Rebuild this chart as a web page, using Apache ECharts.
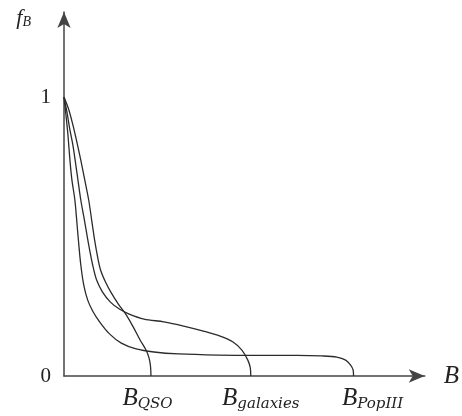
<!DOCTYPE html>
<html>
<head>
<meta charset="utf-8">
<script src="https://cdn.jsdelivr.net/npm/echarts@6/dist/echarts.min.js"></script>
<style>
  html, body { margin: 0; padding: 0; background: #fff; }
  #chart { width: 462px; height: 416px; }
</style>
</head>
<body>
<div id="chart"></div>
<script>
// ---- data ----
// x in arbitrary B units, y = f_B (0..1)
const popX = [0, 2, 4, 6, 8, 11, 13, 15, 17, 20, 24, 29, 36, 46, 58, 73, 91, 116, 156, 196, 236, 261, 276, 285, 290, 292.5, 293];
const popY = [1, 0.935, 0.864, 0.774, 0.703, 0.631, 0.552, 0.470, 0.398, 0.326, 0.272, 0.233, 0.194, 0.151, 0.118, 0.097, 0.086, 0.079, 0.075, 0.074, 0.074, 0.072, 0.068, 0.057, 0.039, 0.022, 0];

const galX = [0, 3, 6, 9, 13, 17, 21, 25, 29, 33, 39, 47, 56, 66, 81, 101, 121, 141, 158, 171, 180, 186, 188.5, 189];
const galY = [1, 0.946, 0.882, 0.828, 0.731, 0.631, 0.552, 0.470, 0.398, 0.344, 0.301, 0.265, 0.240, 0.222, 0.204, 0.194, 0.179, 0.161, 0.143, 0.122, 0.093, 0.057, 0.029, 0];

const qsoX = [0, 5, 9, 13, 17, 21, 25, 28, 31, 34, 37, 42, 48, 55, 63, 70, 77, 83, 86, 87.5, 88];
const qsoY = [1, 0.953, 0.900, 0.839, 0.774, 0.703, 0.631, 0.559, 0.487, 0.427, 0.380, 0.337, 0.297, 0.258, 0.219, 0.176, 0.129, 0.093, 0.065, 0.036, 0];

const bNames = ['QSO', 'galaxies', 'PopIII'];
const bValues = [88, 189, 293];
const yTicks = [0, 1];
const yTickLabels = ['0', '1'];

// ---- chart ----
const zip = (xs, ys) => xs.map((x, i) => [x, ys[i]]);
const serif = 'Liberation Serif';
const serifWide = 'DejaVu Serif';
const textCol = '#222';
const lineCol = '#2b2b2b';

const chart = echarts.init(document.getElementById('chart'), null, { renderer: 'canvas' });

const mkSeries = (name, xs, ys) => ({
  name, type: 'line', data: zip(xs, ys), smooth: 0.3, showSymbol: false,
  lineStyle: { color: lineCol, width: 1.3 }, silent: true
});

chart.setOption({
  animation: false,
  grid: { left: 64, right: 33, top: 12, bottom: 40 },
  xAxis: {
    type: 'value', min: 0, max: 365,
    name: 'B', nameLocation: 'end', nameGap: 19,
    nameTextStyle: { fontFamily: serif, fontStyle: 'italic', fontSize: 25, color: textCol, align: 'left', verticalAlign: 'middle', padding: [9, 0, 0, 0] },
    axisLine: { show: true, onZero: false, symbol: ['none', 'arrow'], symbolSize: [10, 16], lineStyle: { color: '#444', width: 1.5 } },
    axisTick: { show: false },
    splitLine: { show: false },
    axisLabel: {
      customValues: bValues,
      margin: 8,
      formatter: (v) => {
        const i = bValues.indexOf(v);
        if (i < 0) return '';
        return `{g${i}| }{b|B}{s|${bNames[i]}}{r${i}| }`;
      },
      rich: {
        b: { fontFamily: serif, fontStyle: 'italic', fontSize: 25, color: textCol, lineHeight: 28, verticalAlign: 'middle' },
        s: { fontFamily: serifWide, fontStyle: 'italic', fontSize: 15, color: textCol, lineHeight: 15, verticalAlign: 'bottom' },
        g0: { width: 0 }, r0: { width: 7 },
        g1: { width: 20 }, r1: { width: 0 },
        g2: { width: 38 }, r2: { width: 0 }
      }
    }
  },
  yAxis: {
    type: 'value', min: 0, max: 1.305,
    name: '{f|f}{s|B}', nameLocation: 'end', nameGap: -6,
    nameTextStyle: {
      align: 'right', verticalAlign: 'middle', padding: [0, 33, 0, 0],
      rich: {
        f: { fontFamily: serif, fontStyle: 'italic', fontSize: 22, color: textCol, lineHeight: 22, verticalAlign: 'middle' },
        s: { fontFamily: serif, fontStyle: 'italic', fontSize: 14, color: textCol, lineHeight: 14, verticalAlign: 'bottom' }
      }
    },
    axisLine: { show: true, onZero: false, symbol: ['none', 'arrow'], symbolSize: [10, 16], lineStyle: { color: '#444', width: 1.5 } },
    axisTick: { show: false },
    splitLine: { show: false },
    axisLabel: {
      customValues: yTicks,
      formatter: (v) => { const i = yTicks.indexOf(v); return i < 0 ? '' : yTickLabels[i]; },
      fontFamily: serif, fontSize: 21, color: textCol, margin: 13
    }
  },
  series: [
    mkSeries('QSO', qsoX, qsoY),
    mkSeries('galaxies', galX, galY),
    mkSeries('PopIII', popX, popY)
  ]
});
</script>
</body>
</html>
